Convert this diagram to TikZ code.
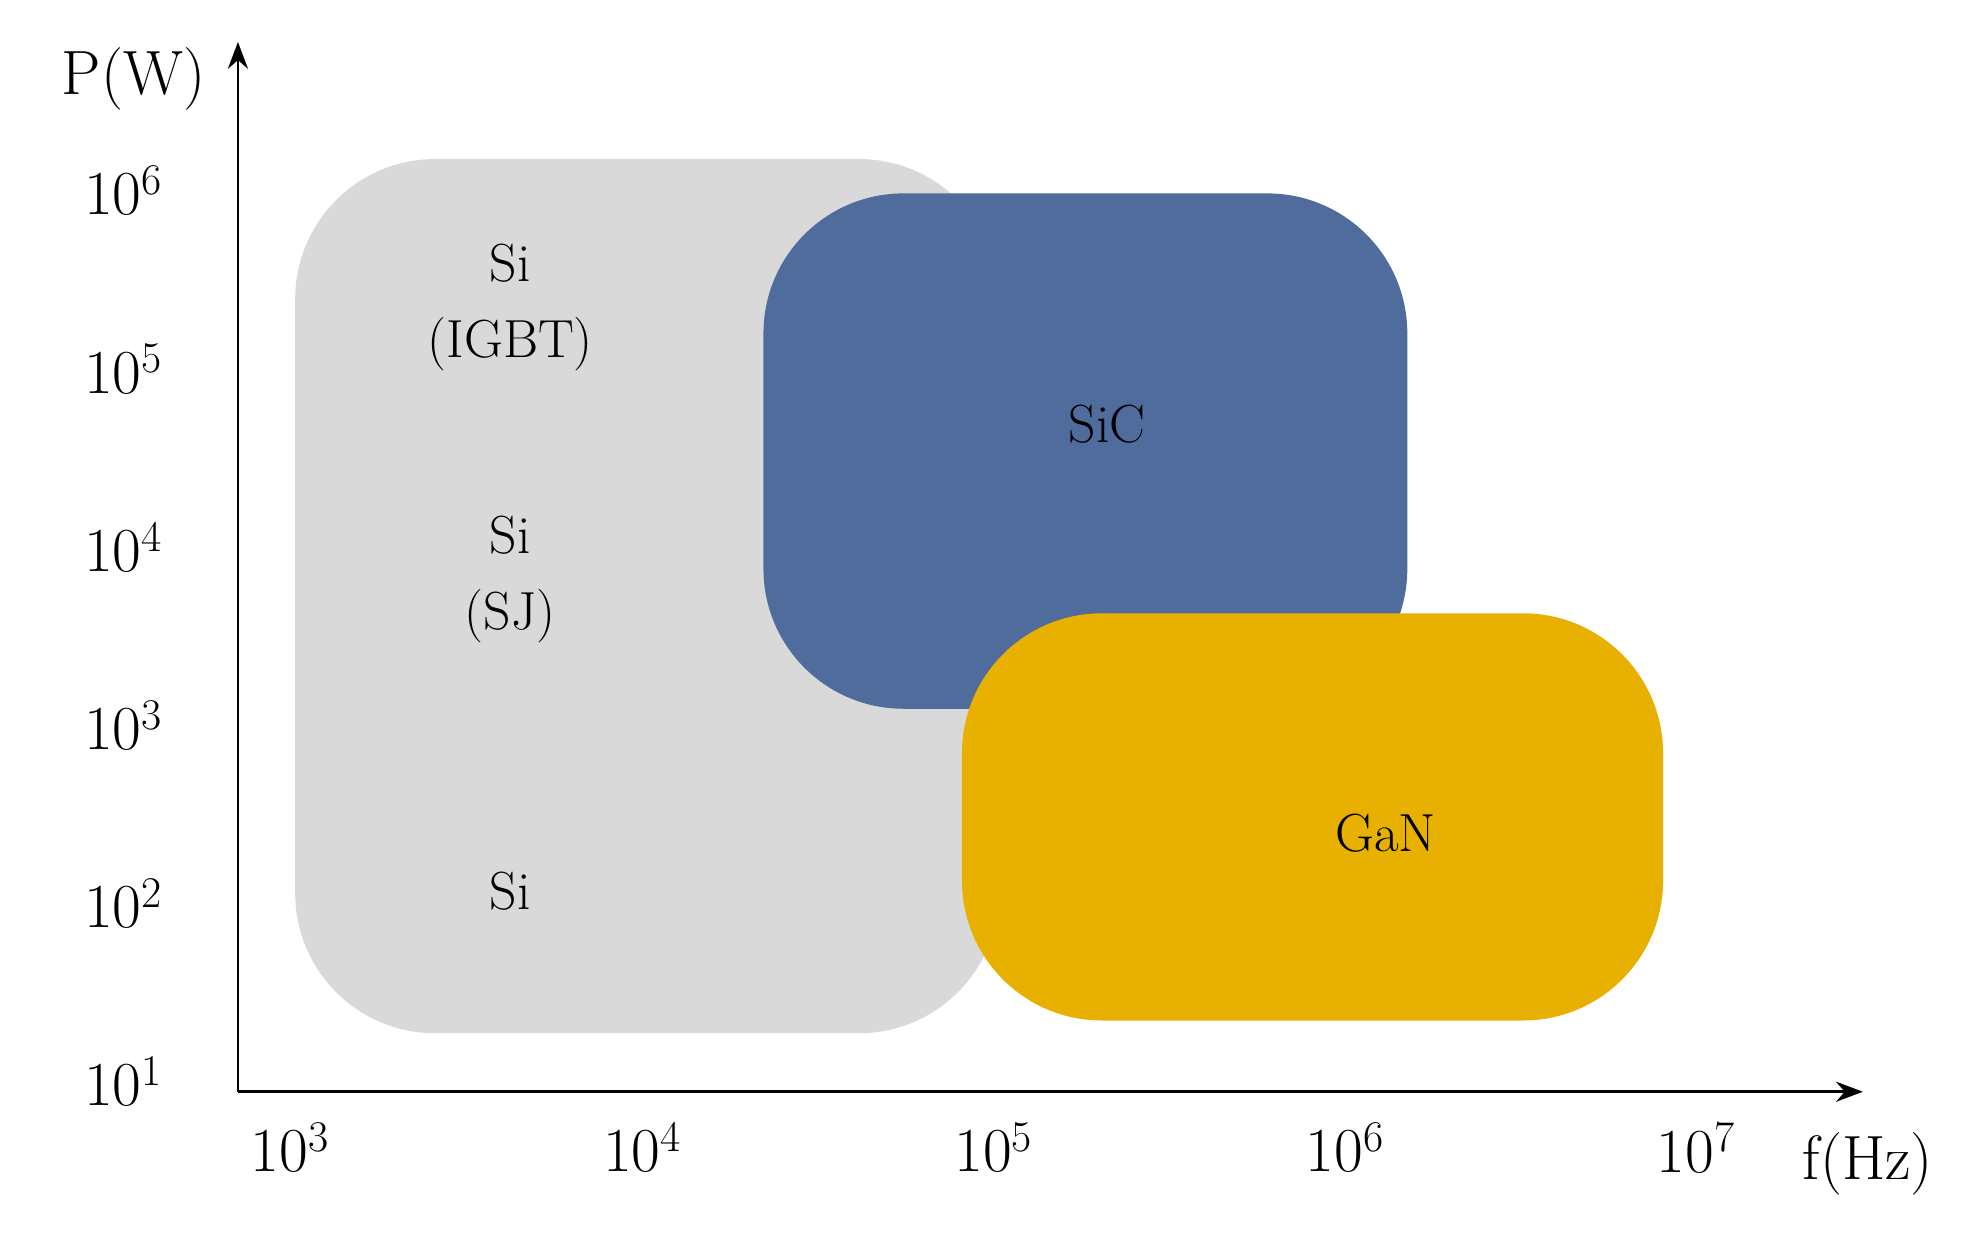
\documentclass[tikz,border=0pt]{standalone}
\usetikzlibrary{arrows.meta}
\definecolor{sigray}{HTML}{D9D9D9}
\definecolor{sicblue}{HTML}{506C9C}
\definecolor{gangold}{HTML}{E8B000}
\begin{document}
\begin{tikzpicture}[x=0.02cm,y=-0.02cm,
  region/.style={rounded corners=2.2cm},
  lbl/.style={font=\fontsize{24}{30}\selectfont, align=center, inner sep=0pt},
  tick/.style={font=\fontsize{28}{32}\selectfont, inner sep=0pt},
  axis/.style={line width=1.2pt,-{Stealth[length=12pt,width=9pt]}}]
\useasboundingbox (0,0) rectangle (1560,977);
\fill[sigray,region] (232,125) rectangle (785,812);
\fill[sicblue,region] (600,152) rectangle (1106,557);
\fill[gangold,region] (756,482) rectangle (1307,802);
\coordinate (o) at (187,858);
\coordinate (ytop) at (187,33);
\coordinate (xend) at (1464,858);
\draw[axis] (o) -- (ytop);
\draw[axis] (o) -- (xend);
\node[tick] (pw) at (105,62) {P(W)};
\node[tick] (fhz) at (1468,915) {f(Hz)};
\foreach \e/\y in {6/150,5/290,4/430,3/570,2/710,1/850}
  \node[tick] (y\e) at (97,\y) {10\textsuperscript{\e}};
\foreach \e/\x in {3/228,4/505,5/781,6/1057,7/1333}
  \node[tick] (x\e) at (\x,902) {10\textsuperscript{\e}};
\node[lbl] (igbt) at (401,242) {Si\\[4pt](IGBT)};
\node[lbl] (sj) at (401,455) {Si\\[4pt](SJ)};
\node[lbl] (si) at (401,700) {Si};
\node[lbl] (sic) at (870,333) {SiC};
\node[lbl] (gan) at (1089,655) {GaN};
\end{tikzpicture}
\end{document}
